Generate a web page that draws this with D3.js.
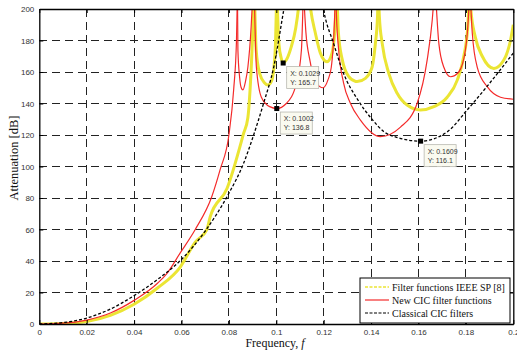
<!DOCTYPE html>
<html>
<head>
<meta charset="utf-8">
<script src="https://cdn.jsdelivr.net/npm/d3@7"></script>
<style>
  body { margin: 0; background: #fff; }
  svg { display: block; }
</style>
</head>
<body>
<div id="chart"></div>
<script>
// attenuation curves, [frequency, dB]
// each curve is split at its zeros (poles in dB)
var ieeeSeg1 = [[0,0],[0.01,0.3],[0.02,1.6],[0.03,5.5],[0.04,12.5],[0.05,23],[0.0594,36],[0.0658,52],[0.0707,60],[0.0721,68],[0.0792,86],[0.0862,121],[0.088,131],[0.0895,165],[0.0902,190],[0.0907,210]]
var ieeeSeg2 = [[0.0908,210],[0.0915,174],[0.093,159],[0.0951,153],[0.0965,151.7],[0.0979,154],[0.099,163],[0.0997,180],[0.1001,205]]
var ieeeSeg3 = [[0.1003,208],[0.1011,178],[0.1021,168.7],[0.1029,165.7],[0.1042,167.6],[0.1063,176],[0.1082,188],[0.1093,200],[0.11,212]]
var ieeeSeg4 = [[0.1136,212],[0.1144,201],[0.1165,184.6],[0.1186,172],[0.1214,166.5],[0.1235,172],[0.1246,184.6],[0.1252,200],[0.1255,210]]
var ieeeSeg5 = [[0.1256,210],[0.1262,185],[0.1278,168],[0.1306,157],[0.1335,154],[0.1341,153.9],[0.1376,156],[0.1404,163],[0.1418,178],[0.1427,195],[0.143,210]]
var ieeeSeg6 = [[0.1431,210],[0.1435,195],[0.1447,178],[0.1475,159],[0.151,146.5],[0.1552,139],[0.1608,135.9],[0.1665,138],[0.1721,144],[0.1764,155],[0.1791,170],[0.1808,189],[0.1814,210]]
var ieeeSeg7 = [[0.1816,210],[0.182,201],[0.184,182],[0.1869,170],[0.1918,162.3],[0.196,167.6],[0.1988,180],[0.2,190]]

var newCicSeg1 = [[0,0],[0.01,0.5],[0.02,2.5],[0.03,7],[0.04,15],[0.05,26],[0.0538,32],[0.0594,45],[0.0658,60],[0.0728,81],[0.0763,98],[0.08,120],[0.082,148.6],[0.0832,180],[0.0836,210]]
var newCicSeg2 = [[0.0836,210],[0.0838,174],[0.0845,157],[0.0852,150],[0.0859,148.6],[0.087,154],[0.088,163],[0.0894,189],[0.0901,210]]
var newCicSeg3 = [[0.0907,210],[0.0916,163],[0.0937,144],[0.0972,138],[0.1002,136.8],[0.1042,140],[0.1085,153],[0.1106,174],[0.1113,205]]
var newCicSeg4 = [[0.1116,208],[0.1125,185],[0.1141,168],[0.1169,153],[0.1197,150],[0.1218,155],[0.1232,163],[0.1246,195],[0.1249,210]]
var newCicSeg5 = [[0.1251,210],[0.1254,195],[0.1263,174],[0.1284,153],[0.1313,140],[0.1355,129.5],[0.1439,119],[0.1524,125],[0.1594,140],[0.1637,168],[0.1658,193],[0.1667,210]]
var newCicSeg6 = [[0.1672,210],[0.1686,178],[0.1707,163],[0.1735,157],[0.177,160],[0.1798,174],[0.1812,199],[0.1815,210]]
var newCicSeg7 = [[0.1818,210],[0.1827,184.6],[0.1848,163],[0.189,150.7],[0.1946,144],[0.2,142.7]]

var classicSeg1 = [[0,0],[0.01,0.9],[0.02,3.8],[0.03,9.5],[0.04,18],[0.05,28.4],[0.06,41],[0.07,59],[0.08,83],[0.0862,102],[0.09,118],[0.0946,140],[0.0989,163],[0.1031,199],[0.105,215]]
var classicSeg2 = [[0.1185,212],[0.12,199],[0.1242,178],[0.1284,159],[0.1341,143],[0.1404,130],[0.1455,122],[0.1508,118.5],[0.1609,116.1],[0.1721,122],[0.1806,136],[0.189,151],[0.2,172]]

var ieeeCurve = [ieeeSeg1, ieeeSeg2, ieeeSeg3, ieeeSeg4, ieeeSeg5, ieeeSeg6, ieeeSeg7]
var newCicCurve = [newCicSeg1, newCicSeg2, newCicSeg3, newCicSeg4, newCicSeg5, newCicSeg6, newCicSeg7]
var classicCurve = [classicSeg1, classicSeg2]

var xTicks = [0, 0.02, 0.04, 0.06, 0.08, 0.1, 0.12, 0.14, 0.16, 0.18, 0.2]
var xTickLabels = ["0", "0.02", "0.04", "0.06", "0.08", "0.1", "0.12", "0.14", "0.16", "0.18", "0.2"]
var yTicks = [0, 20, 40, 60, 80, 100, 120, 140, 160, 180, 200]

// data cursors shown on the figure
var tipPoints = [[0.1029, 165.7], [0.1002, 136.8], [0.1609, 116.1]]
var tipLabels = [["X: 0.1029", "Y: 165.7"], ["X: 0.1002", "Y: 136.8"], ["X: 0.1609", "Y: 116.1"]]

var legendNames = ["Filter functions IEEE SP [8]", "New CIC filter functions", "Classical CIC filters"]

var width = 517, height = 354
// plot box (window.top is reserved, so prefixed names)
var plotLeft = 39.3, plotRight = 513.3, plotTop = 9, plotBottom = 324

var svg = d3.select("#chart").append("svg")
svg.attr("width", width).attr("height", height)

var x = d3.scaleLinear().domain([0, 0.2]).range([plotLeft, plotRight])
var y = d3.scaleLinear().domain([0, 200]).range([plotBottom, plotTop])

svg.append("clipPath").attr("id", "plotclip")
   .append("rect")
   .attr("x", plotLeft).attr("y", plotTop)
   .attr("width", plotRight - plotLeft).attr("height", plotBottom - plotTop)

// grid
var grid = svg.append("g").attr("shape-rendering", "crispEdges")
grid.selectAll("line.vg")
    .data(xTicks.slice(1, -1))
    .enter()
    .append("line")
    .attr("x1", function(d) { return x(d) })
    .attr("x2", function(d) { return x(d) })
    .attr("y1", plotTop).attr("y2", plotBottom)
grid.selectAll("line.hg")
    .data(yTicks.slice(1, -1))
    .enter()
    .append("line")
    .attr("y1", function(d) { return y(d) })
    .attr("y2", function(d) { return y(d) })
    .attr("x1", plotLeft).attr("x2", plotRight)
grid.selectAll("line")
    .attr("stroke", "#222")
    .attr("stroke-width", 1)
    .attr("stroke-dasharray", "8,5")

// curves
var line = d3.line()
  .x(function(d) { return x(d[0]) })
  .y(function(d) { return y(d[1]) })
  .curve(d3.curveMonotoneX)

var curves = svg.append("g").attr("clip-path", "url(#plotclip)")

curves.selectAll("path.ieee")
      .data(ieeeCurve)
      .enter()
      .append("path")
      .attr("d", line)
      .attr("fill", "none")
      .attr("stroke", "#ebe534")
      .attr("stroke-width", 3)

curves.selectAll("path.newcic")
      .data(newCicCurve)
      .enter()
      .append("path")
      .attr("d", line)
      .attr("fill", "none")
      .attr("stroke", "#f42a2a")
      .attr("stroke-width", 1.2)

curves.selectAll("path.classic")
      .data(classicCurve)
      .enter()
      .append("path")
      .attr("d", line)
      .attr("fill", "none")
      .attr("stroke", "#000")
      .attr("stroke-width", 1.3)
      .attr("stroke-dasharray", "3,2")

// axes frame and ticks
var axisBottom = d3.axisBottom(x).tickValues(xTicks).tickSizeInner(-4).tickSizeOuter(0)
  .tickFormat(function(d, i) { return xTickLabels[i] }).tickPadding(5)
var axisLeft = d3.axisLeft(y).tickValues(yTicks).tickSizeInner(-4).tickSizeOuter(0).tickPadding(5)
var axisTop = d3.axisTop(x).tickValues(xTicks).tickSizeInner(-4).tickSizeOuter(0).tickFormat("")
var axisRight = d3.axisRight(y).tickValues(yTicks).tickSizeInner(-4).tickSizeOuter(0).tickFormat("")

svg.append("g").attr("transform", "translate(0," + plotBottom + ")").call(axisBottom)
svg.append("g").attr("transform", "translate(" + plotLeft + ",0)").call(axisLeft)
svg.append("g").attr("transform", "translate(0," + plotTop + ")").call(axisTop)
svg.append("g").attr("transform", "translate(" + plotRight + ",0)").call(axisRight)

svg.selectAll(".domain").attr("stroke", "#000").attr("stroke-width", 1.3)
svg.selectAll(".tick line").attr("stroke", "#000")
svg.selectAll(".tick text")
   .attr("font-family", "Liberation Sans, Arial, sans-serif")
   .attr("font-size", 8)
   .attr("fill", "#333")

// data cursors
var tips = svg.append("g")
tips.selectAll("rect.mark")
    .data(tipPoints)
    .enter()
    .append("rect")
    .attr("x", function(d) { return x(d[0]) - 2.5 })
    .attr("y", function(d) { return y(d[1]) - 2.5 })
    .attr("width", 5).attr("height", 5)
    .attr("fill", "#000")

var tipBox = tips.selectAll("g.tip")
    .data(tipPoints)
    .enter()
    .append("g")
    .attr("transform", function(d) { return "translate(" + (x(d[0]) + 3.5) + "," + (y(d[1]) + 3.5) + ")" })
tipBox.append("rect")
      .attr("width", 32).attr("height", 22)
      .attr("fill", "#fafaf0")
      .attr("stroke", "#b8b8b0")
      .attr("stroke-width", 0.8)
tipBox.each(function(d, i) {
  var g = d3.select(this)
  g.selectAll("text")
   .data(tipLabels[i])
   .enter()
   .append("text")
   .attr("x", 3.5)
   .attr("y", function(t, j) { return 9 + j * 9 })
   .attr("font-family", "Liberation Sans, Arial, sans-serif")
   .attr("font-size", 7)
   .attr("fill", "#333")
   .text(function(t) { return t })
})

// axis labels
svg.append("text")
   .attr("transform", "translate(18,158) rotate(-90)")
   .attr("text-anchor", "middle")
   .attr("font-family", "Liberation Serif, Times New Roman, serif")
   .attr("font-size", 12.5)
   .attr("fill", "#111")
   .text("Attenuation [dB]")

var xlab = svg.append("text")
   .attr("x", 275).attr("y", 347)
   .attr("text-anchor", "middle")
   .attr("font-family", "Liberation Serif, Times New Roman, serif")
   .attr("font-size", 12)
   .attr("fill", "#111")
xlab.append("tspan").text("Frequency, ")
xlab.append("tspan").attr("font-style", "italic").text("f")

// legend
var legend = svg.append("g").attr("transform", "translate(360,278)")
legend.append("rect")
      .attr("width", 150).attr("height", 45)
      .attr("fill", "#fff")
      .attr("stroke", "#000")
      .attr("stroke-width", 1)
var legendStyle = [
  {stroke: "#ebe534", dash: "3,1.5", w: 1.6},
  {stroke: "#f42a2a", dash: null, w: 1.2},
  {stroke: "#000", dash: "3,1.5", w: 1.2}
]
var rows = legend.selectAll("g.row")
    .data(legendNames)
    .enter()
    .append("g")
    .attr("transform", function(d, i) { return "translate(0," + (9 + i * 13) + ")" })
rows.append("line")
    .attr("x1", 5).attr("x2", 29)
    .attr("stroke", function(d, i) { return legendStyle[i].stroke })
    .attr("stroke-width", function(d, i) { return legendStyle[i].w })
    .attr("stroke-dasharray", function(d, i) { return legendStyle[i].dash })
rows.append("text")
    .attr("x", 32).attr("y", 3.5)
    .attr("font-family", "Liberation Serif, Times New Roman, serif")
    .attr("font-size", 10)
    .attr("fill", "#111")
    .text(function(d) { return d })
</script>
</body>
</html>
